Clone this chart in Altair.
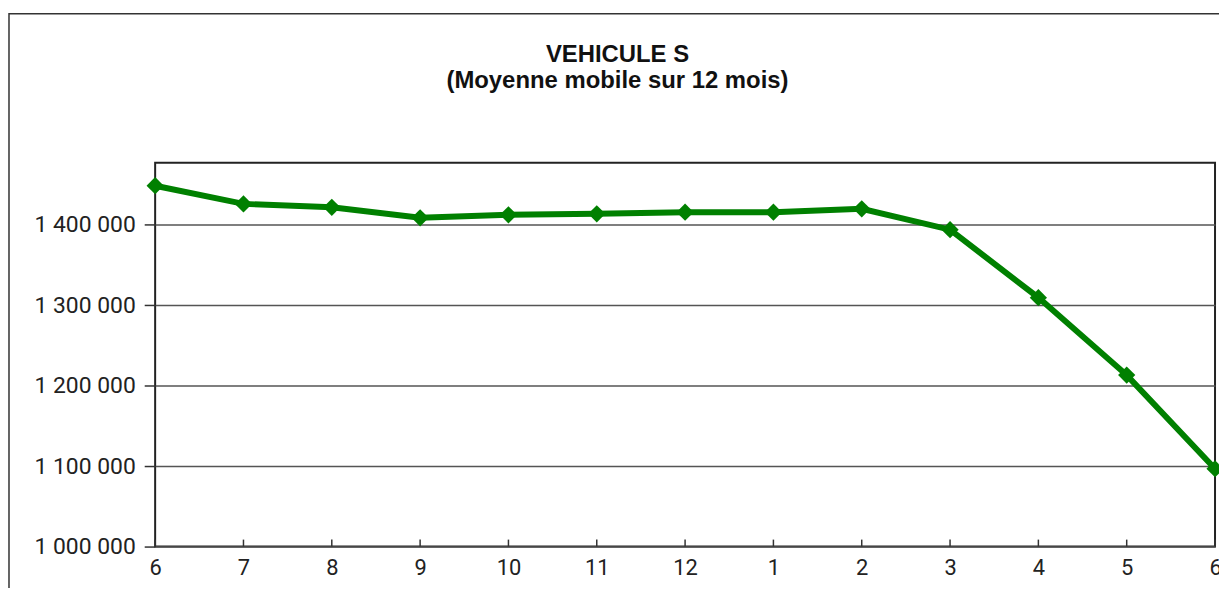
import json
import altair as alt
import pandas as pd

# Data
months = ["6", "7", "8", "9", "10", "11", "12", "1", "2", "3", "4", "5", "6"]
values = [1448500, 1425900, 1421700, 1408600, 1412300, 1413600, 1415600,
          1415600, 1419800, 1393800, 1309400, 1213100, 1096700]
y_ticks = [1000000, 1100000, 1200000, 1300000, 1400000]
title_lines = ["VEHICULE S", "(Moyenne mobile sur 12 mois)"]

df = pd.DataFrame({"idx": list(range(len(months))), "mois": months, "valeur": values})

W, H = 1066, 386
label_expr = json.dumps(months).replace('"', "'") + "[datum.value]"
xscale = alt.Scale(domain=[0, len(months) - 1], nice=False, zero=False)

x_enc = alt.X(
    "idx:Q",
    scale=xscale,
    axis=alt.Axis(
        values=list(range(len(months))),
        labelExpr=label_expr,
        title=None,
        grid=False,
        ticks=False,
        domain=False,
        labelFont="Roboto",
        labelFontSize=22,
        labelColor="#222222",
        labelPadding=11,
        labelFlush=False,
    ),
)
y_enc = alt.Y(
    "valeur:Q",
    scale=alt.Scale(domain=[1000000, 1477000], nice=False, zero=False),
    axis=alt.Axis(
        values=y_ticks,
        labelExpr="replace(replace(format(datum.value, ','), ',', ' '), ',', ' ')",
        title=None,
        grid=True,
        gridColor="#555555",
        gridWidth=1.5,
        ticks=True,
        tickSize=11,
        tickColor="#333333",
        tickWidth=1.5,
        domain=False,
        labelFont="Roboto",
        labelFontSize=23,
        labelColor="#222222",
        labelPadding=9,
    ),
)

one = pd.DataFrame({"k": [0]})

frame = alt.Chart(one).mark_rect(
    fill=None, stroke="#333333", strokeWidth=1.5
).encode(
    x=alt.value(-147), x2=alt.value(1300),
    y=alt.value(-150), y2=alt.value(700),
)

title1 = alt.Chart(one).mark_text(
    font="Liberation Sans", fontSize=24, fontWeight="bold", color="#111111",
    align="center", baseline="alphabetic",
).encode(x=alt.value(465), y=alt.value(-101), text=alt.value(title_lines[0]))

title2 = alt.Chart(one).mark_text(
    font="Liberation Sans", fontSize=24, fontWeight="bold", color="#111111",
    align="center", baseline="alphabetic",
).encode(x=alt.value(465), y=alt.value(-75), text=alt.value(title_lines[1]))

xticks = alt.Chart(df).mark_rule(color="#333333", strokeWidth=1.5).encode(
    x=alt.X("idx:Q", scale=xscale),
    y=alt.value(H), y2=alt.value(H - 7),
)

line = alt.Chart(df).mark_line(color="#008000", strokeWidth=6).encode(x=x_enc, y=y_enc)
pts = alt.Chart(df).mark_point(
    shape="diamond", filled=True, color="#008000", size=300, opacity=1
).encode(x="idx:Q", y="valeur:Q")

chart = alt.layer(frame, title1, title2, xticks, line, pts).properties(
    width=W,
    height=H,
    autosize=alt.AutoSizeParams(type="none"),
    padding={"left": 148, "top": 154, "right": 4, "bottom": 40},
).configure(
    background="white"
).configure_view(
    stroke="#222222", strokeWidth=2
)

chart.save("out.html", embed_options={"renderer": "svg", "actions": False})
